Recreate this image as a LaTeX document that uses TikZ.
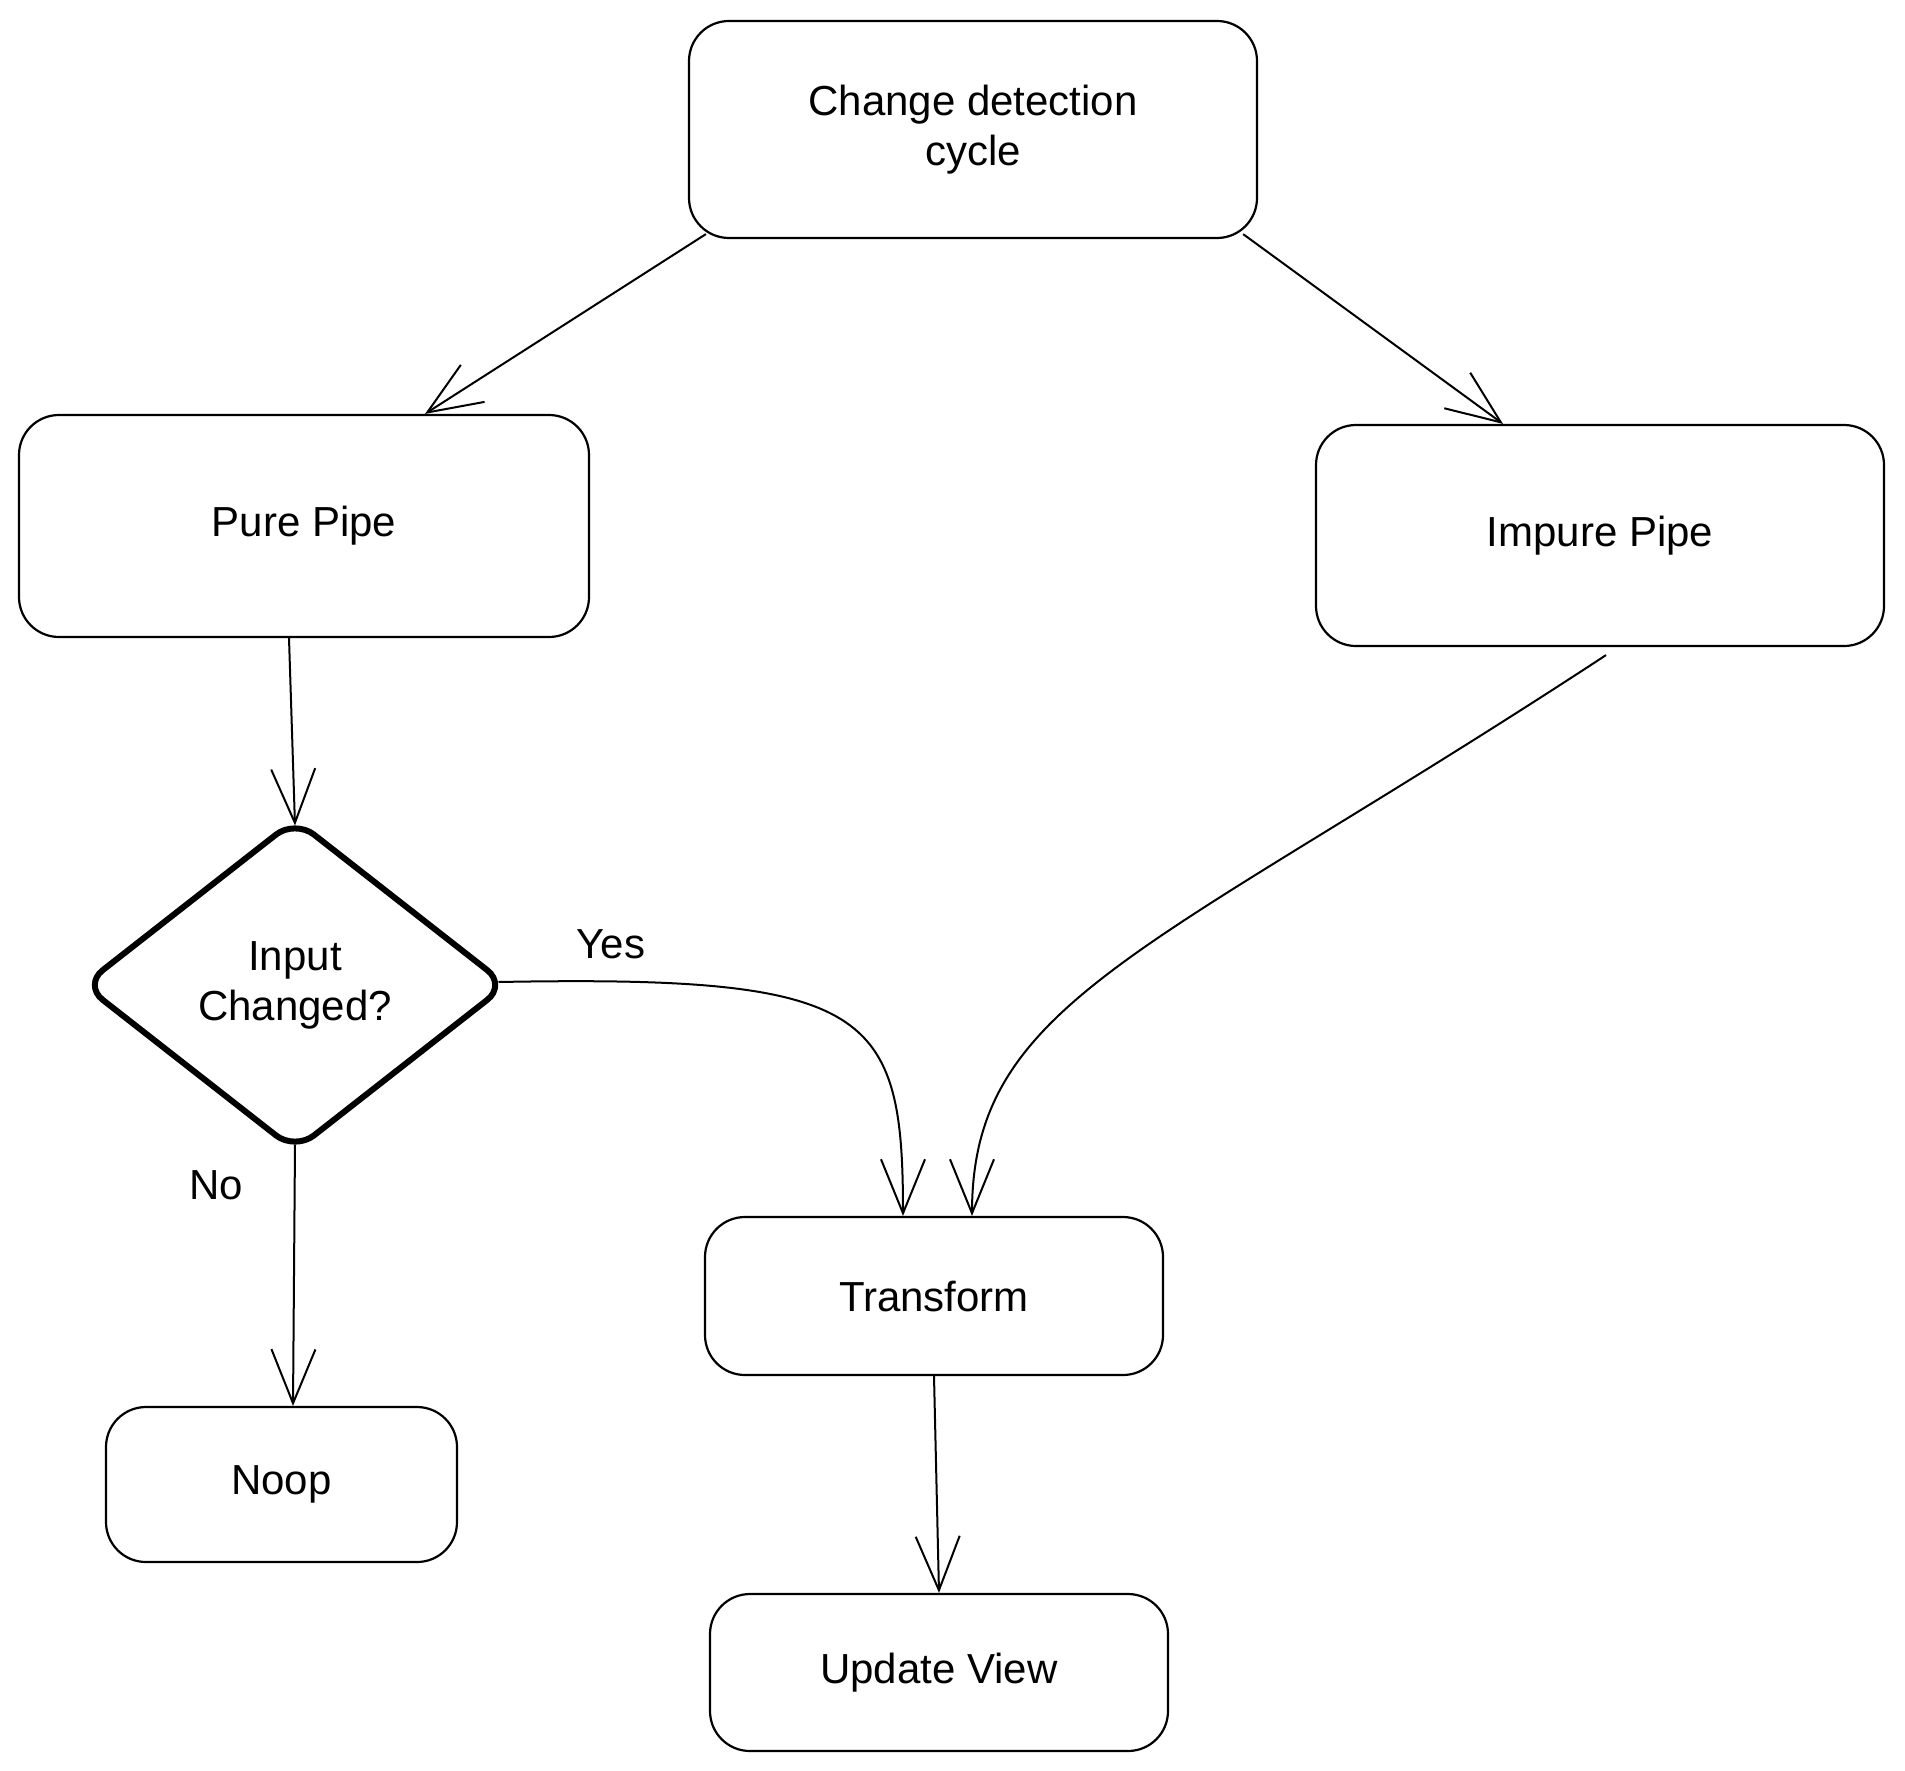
\documentclass[tikz,border=0pt]{standalone}
\usepackage{fontspec}
\setmainfont{Liberation Sans}
\usetikzlibrary{shapes.geometric,arrows.meta,calc}
\begin{document}
\begin{tikzpicture}[x=0.5pt,y=-0.5pt,
  box/.style={draw,line width=1.1pt,rounded corners=20pt,inner sep=0pt,align=center,font=\fontsize{21}{25}\selectfont},
  decision/.style={draw,diamond,line width=3pt,rounded corners=12pt,inner sep=0pt,align=center,font=\fontsize{21}{25}\selectfont},
  conn/.style={line width=1pt,-{Straight Barb[length=27pt,width=22pt,line width=1pt]}},
  lbl/.style={font=\fontsize{21}{25}\selectfont}]
\useasboundingbox (0,0) rectangle (1905,1771);
\node[box,minimum width=284pt,minimum height=108.5pt] (top) at (973,129.5) {Change detection\\cycle};
\node[box,minimum width=285pt,minimum height=111pt] (pure) at (304,526) {Pure Pipe};
\node[box,minimum width=284pt,minimum height=110.5pt] (impure) at (1600,535.5) {Impure Pipe};
\node[decision,minimum width=212.5pt,minimum height=166.5pt] (dec) at (295,985) {Input\\Changed?};
\node[box,minimum width=229pt,minimum height=79pt] (trans) at (934,1296) {Transform};
\node[box,minimum width=175.5pt,minimum height=77.5pt] (noop) at (281.5,1484.5) {Noop};
\node[box,minimum width=229pt,minimum height=78.5pt] (upd) at (939,1672.5) {Update View};
\node[lbl] (yes) at (611,944) {Yes};
\node[lbl] (no) at (216,1185) {No};
\draw[conn] ([shift={(18,-5)}]top.south west) -- ([shift={(121,0)}]pure.north);
\draw[conn] ([shift={(-15,-5)}]top.south east) -- ([shift={(-97,0)}]impure.north);
\draw[conn] ([shift={(-15,0)}]pure.south) -- ([shift={(0,10)}]dec.north);
\draw[conn] ([shift={(6,8)}]impure.south) .. controls (1150,954) and (972,1000) .. ([shift={(38,0)}]trans.north);
\draw[conn] ([shift={(-12,-3)}]dec.east) .. controls (870,975) and (903,1010) .. ([shift={(-31,0)}]trans.north);
\draw[conn] ([shift={(0,-10)}]dec.south) -- ([shift={(11.5,0)}]noop.north);
\draw[conn] (trans.south) -- (upd.north);
\end{tikzpicture}
\end{document}
